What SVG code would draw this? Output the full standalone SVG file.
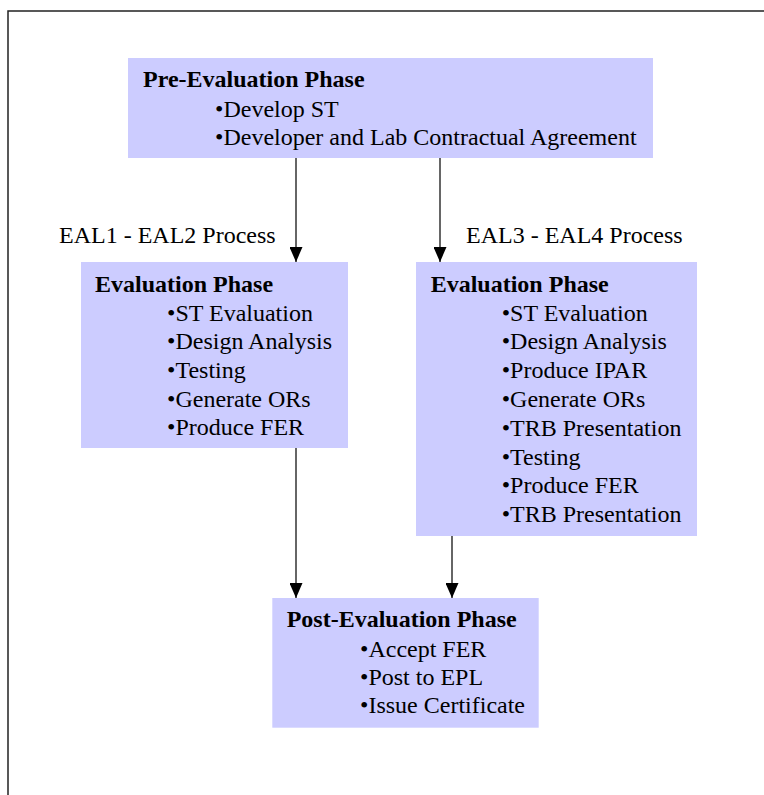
<svg xmlns="http://www.w3.org/2000/svg" width="764" height="795" viewBox="0 0 764 795">
<defs>
<style>
.box{fill:#CCCCFF;stroke:none}
.t{font-family:"Liberation Serif","Times New Roman",serif;font-size:24px;fill:#000}
.b{font-weight:bold}
.c{stroke:#333;stroke-width:1.5;fill:none}
</style>
<marker id="ah" markerWidth="15" markerHeight="13" refX="15" refY="6.5" orient="auto" markerUnits="userSpaceOnUse" viewBox="0 0 15 13">
<path d="M0,0 L15,6.5 L0,13 Z" fill="#000"/>
</marker>
</defs>
<rect width="764" height="795" fill="#fff"/>
<path d="M8,800 L8,11 L770,11" fill="none" stroke="#222" stroke-width="1.5"/>
<g id="pre">
<rect class="box" x="128" y="58" width="525" height="100"/>
<text class="t b" x="143" y="87">Pre-Evaluation Phase</text>
<text class="t" x="215" y="116.5">•Develop ST</text>
<text class="t" x="215" y="145">•Developer and Lab Contractual Agreement</text>
</g>
<g id="eval12">
<rect class="box" x="81" y="262" width="267" height="186"/>
<text class="t b" x="95" y="291.7">Evaluation Phase</text>
<text class="t" x="167" y="320.5">•ST Evaluation</text>
<text class="t" x="167" y="349">•Design Analysis</text>
<text class="t" x="167" y="377.7">•Testing</text>
<text class="t" x="167" y="406.5">•Generate ORs</text>
<text class="t" x="167" y="435">•Produce FER</text>
</g>
<g id="eval34">
<rect class="box" x="416" y="262" width="281" height="274"/>
<text class="t b" x="430.7" y="291.7">Evaluation Phase</text>
<text class="t" x="501.7" y="320.5">•ST Evaluation</text>
<text class="t" x="501.7" y="349">•Design Analysis</text>
<text class="t" x="501.7" y="377.7">•Produce IPAR</text>
<text class="t" x="501.7" y="406.5">•Generate ORs</text>
<text class="t" x="501.7" y="436">•TRB Presentation</text>
<text class="t" x="501.7" y="464.5">•Testing</text>
<text class="t" x="501.7" y="493">•Produce FER</text>
<text class="t" x="501.7" y="521.7">•TRB Presentation</text>
</g>
<g id="post">
<rect class="box" x="272.3" y="598" width="266.4" height="129.7"/>
<text class="t b" x="286.7" y="627.3">Post-Evaluation Phase</text>
<text class="t" x="360" y="656.7">•Accept FER</text>
<text class="t" x="360" y="685">•Post to EPL</text>
<text class="t" x="360" y="713.3">•Issue Certificate</text>
</g>
<g id="labels">
<text class="t" x="59" y="243">EAL1 - EAL2 Process</text>
<text class="t" x="466" y="243">EAL3 - EAL4 Process</text>
</g>
<g id="connectors">
<line class="c" x1="296" y1="158" x2="296" y2="262" marker-end="url(#ah)"/>
<line class="c" x1="440" y1="158" x2="440" y2="262" marker-end="url(#ah)"/>
<line class="c" x1="296" y1="448" x2="296" y2="598" marker-end="url(#ah)"/>
<line class="c" x1="452" y1="536" x2="452" y2="598" marker-end="url(#ah)"/>
</g>
</svg>
